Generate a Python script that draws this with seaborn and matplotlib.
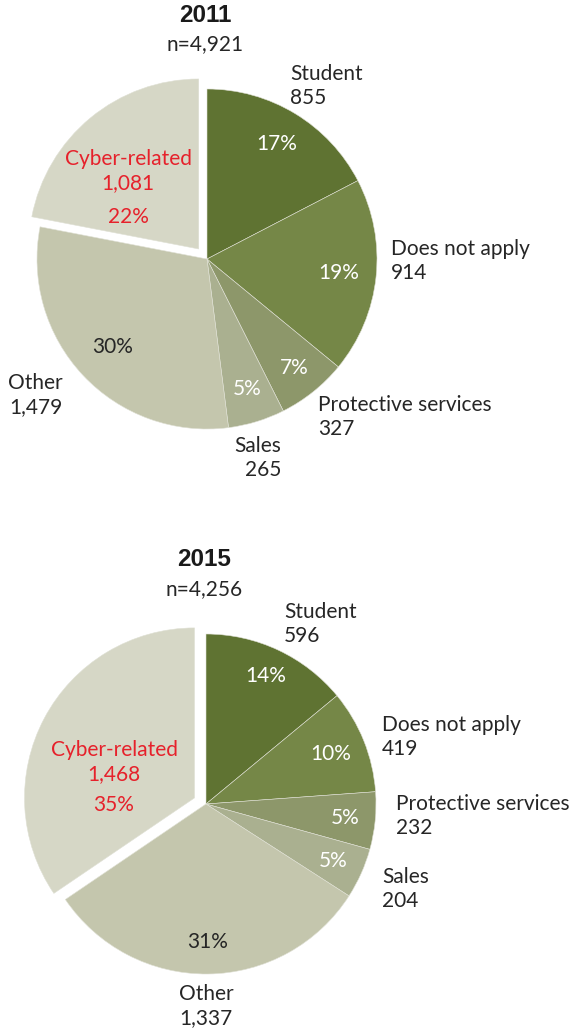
import matplotlib
matplotlib.use("Agg")
import matplotlib.pyplot as plt
import seaborn as sns
import numpy as np

# --- data ---
categories = ["Student", "Does not apply", "Protective services", "Sales", "Other", "Cyber-related"]
years = ["2011", "2015"]
totals = ["n=4,921", "n=4,256"]
counts_2011 = [855, 914, 327, 265, 1479, 1081]
counts_2015 = [596, 419, 232, 204, 1337, 1468]
count_labels_2011 = ["855", "914", "327", "265", "1,479", "1,081"]
count_labels_2015 = ["596", "419", "232", "204", "1,337", "1,468"]
pct_2011 = ["17%", "19%", "7%", "5%", "30%", "22%"]
pct_2015 = ["14%", "10%", "5%", "5%", "31%", "35%"]

# --- style ---
sns.set_theme(style="white")
plt.rcParams["font.family"] = ["Lato", "DejaVu Sans"]

slice_colors = ["#5f7332", "#758747", "#8d976a", "#aab090", "#c4c6ad", "#d6d7c6"]
pct_colors = ["white", "white", "white", "white", "#262626", "#e6212b"]
RED = "#e6212b"
TXT = "#262626"
FS = 15

W, H = 574, 1036
fig = plt.figure(figsize=(W / 100, H / 100), dpi=100)
ax = fig.add_axes([0, 0, 1, 1])

# layout per pie: centre (px, y measured from top), radius, explode offset
centers = [(207, 259), (206, 804)]
radius = 170
explode_px = 13
pct_dist = [[0.79, 0.78, 0.82, 0.80, 0.76, 0], [0.83, 0.79, 0.82, 0.82, 0.81, 0]]
# outer label anchors relative to pie centre (dx, dy up), alignment
label_pos = [
    [(83, 173, "left"), (184, -2, "left"), (111, -158, "left"), (74, -199, "right"), (-144, -136, "right")],
    [(78, 180, "left"), (176, 67, "left"), (190, -12, "left"), (176, -85, "left"), (0, -202, "center")],
]
cyber_pos = [(-79, 88, 42), (-92, 42, -1)]

all_counts = [counts_2011, counts_2015]
all_count_labels = [count_labels_2011, count_labels_2015]
all_pct = [pct_2011, pct_2015]

for i, year in enumerate(years):
    cx, cy = centers[i][0], H - centers[i][1]
    explode = [0] * (len(categories) - 1) + [explode_px]
    wedges, _ = ax.pie(all_counts[i], colors=slice_colors, startangle=90, counterclock=False,
                       radius=radius, center=(cx, cy), explode=explode,
                       wedgeprops=dict(linewidth=0.4, edgecolor="#dfe0d4"))

    # percentages inside the slices
    for j, w in enumerate(wedges[:-1]):
        mid = np.deg2rad((w.theta1 + w.theta2) / 2)
        k = pct_dist[i][j] * w.r
        ax.text(w.center[0] + k * np.cos(mid), w.center[1] + k * np.sin(mid), all_pct[i][j],
                ha="center", va="center", color=pct_colors[j], fontsize=FS)

    # outer labels
    for j, (dx, dy, ha) in enumerate(label_pos[i]):
        ax.text(cx + dx, cy + dy, categories[j] + "\n" + all_count_labels[i][j],
                ha=ha, va="center", color=TXT, fontsize=FS, linespacing=1.28)

    # cyber-related label inside the exploded slice
    dx, dy, dyp = cyber_pos[i]
    ax.text(cx + dx, cy + dy, categories[-1] + "\n" + all_count_labels[i][-1],
            ha="center", va="center", color=RED, fontsize=FS, linespacing=1.28)
    ax.text(cx + dx, cy + dyp, all_pct[i][-1], ha="center", va="center", color=RED, fontsize=FS)

    # titles
    ax.text(cx - 2, cy + 244, year, ha="center", va="center", fontsize=17.5, fontweight="bold",
            color="#1a1a1a", family=["Liberation Sans", "DejaVu Sans"])
    ax.text(cx - 2, cy + 215, totals[i], ha="center", va="center", fontsize=FS, color=TXT)

ax.set_xlim(0, W)
ax.set_ylim(0, H)
ax.set_aspect("auto")
ax.axis("off")

plt.savefig("out.png", dpi=100)
